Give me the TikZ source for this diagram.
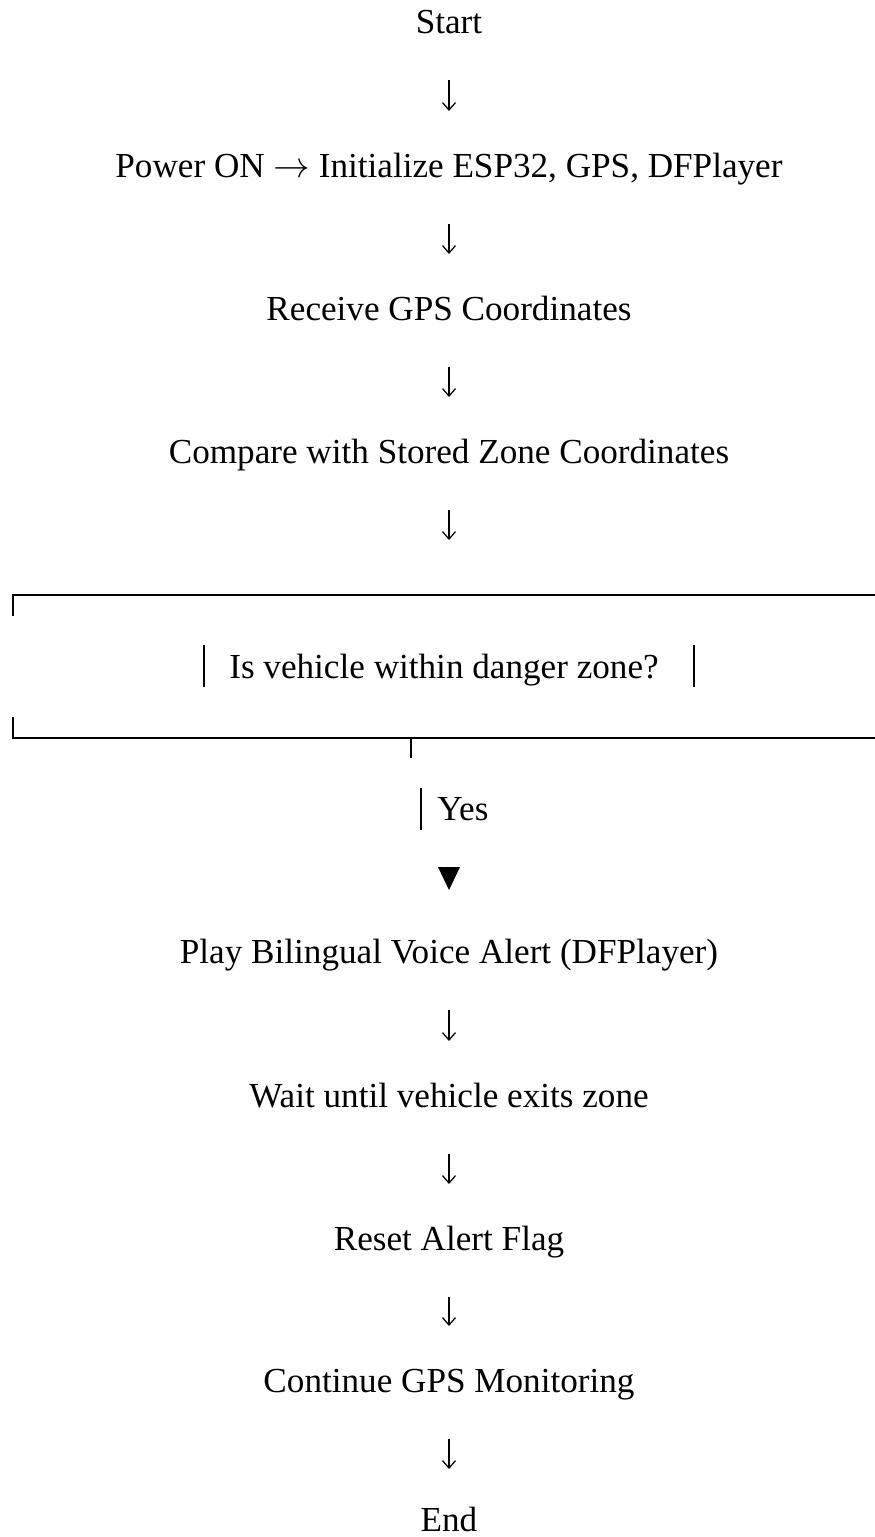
\documentclass[tikz,border=0pt]{standalone}
\usepackage{fontspec}
\setmainfont{Liberation Serif}
\usetikzlibrary{calc}
\usetikzlibrary{arrows.meta}

\begin{document}
\begin{tikzpicture}[
  every node/.style={inner sep=0pt, font=\fontsize{20}{24}\selectfont},
  flowarrow/.style={line width=0.7pt, -{Straight Barb[length=1.5mm,width=2.6mm]},
    shorten <=0.94cm, shorten >=1.32cm},
  boxline/.style={line width=1.5pt},
  barline/.style={line width=1.2pt}]
  \useasboundingbox (0,0) rectangle (17.5,-30.74);

  \node[anchor=base] (start) at (8.98,-0.66) {Start};
  \node[anchor=base] (power) at (8.98,-3.54) {Power ON \(\rightarrow\) Initialize ESP32, GPS, DFPlayer};
  \node[anchor=base] (receive) at (8.98,-6.40) {Receive GPS Coordinates};
  \node[anchor=base] (compare) at (8.98,-9.26) {Compare with Stored Zone Coordinates};

  % decision drawn as a text box
  \coordinate (boxtl) at (0.26,-11.90);
  \coordinate (boxbl) at (0.26,-14.76);
  \node[anchor=base] (decide) at (8.88,-13.56) {Is vehicle within danger zone?};
  \draw[boxline] ($(boxtl)+(0,-0.42)$) -- (boxtl) -- (17.5,-11.90);
  \draw[boxline] ($(boxbl)+(0,0.42)$) -- (boxbl) -- (17.5,-14.76);
  \draw[barline] (4.08,-12.90) -- (4.08,-13.74);
  \draw[barline] (13.88,-12.90) -- (13.88,-13.74);
  \draw[barline] (8.22,-14.76) -- (8.22,-15.16);

  \node[anchor=base west] (yes) at (8.74,-16.40) {Yes};
  \draw[barline] (8.42,-15.76) -- (8.42,-16.60);
  \coordinate (tip) at (8.98,-17.80);
  \fill (tip) -- ++(-0.22,0.46) -- ++(0.44,0) -- cycle;

  \node[anchor=base] (play) at (8.98,-19.26) {Play Bilingual Voice Alert (DFPlayer)};
  \node[anchor=base] (wait) at (8.98,-22.14) {Wait until vehicle exits zone};
  \node[anchor=base] (reset) at (8.98,-25.00) {Reset Alert Flag};
  \node[anchor=base] (continue) at (8.98,-27.84) {Continue GPS Monitoring};
  \node[anchor=base] (end) at (8.98,-30.62) {End};

  \draw[flowarrow] (start.base) -- (power.base);
  \draw[flowarrow] (power.base) -- (receive.base);
  \draw[flowarrow] (receive.base) -- (compare.base);
  \draw[flowarrow, shorten >=2.76cm] (compare.base) -- (compare.base |- decide.base);
  \draw[flowarrow] (play.base) -- (wait.base);
  \draw[flowarrow] (wait.base) -- (reset.base);
  \draw[flowarrow] (reset.base) -- (continue.base);
  \draw[flowarrow, shorten >=1.24cm] (continue.base) -- (end.base);

\end{tikzpicture}
\end{document}
